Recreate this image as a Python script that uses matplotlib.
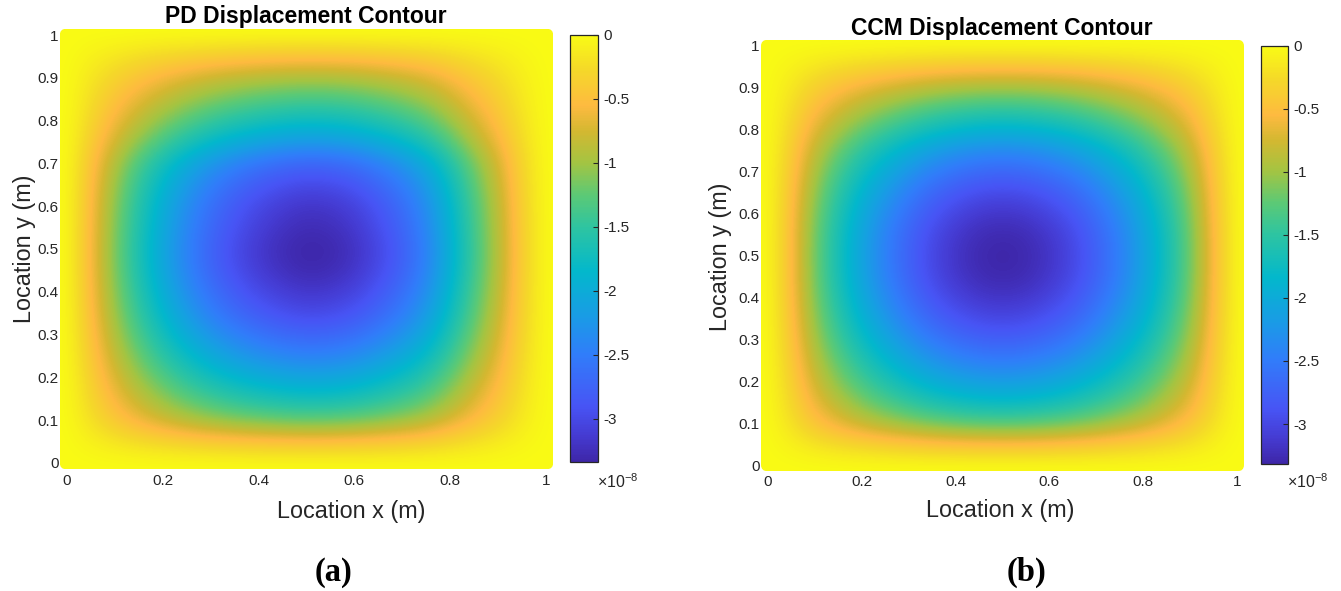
import numpy as np
import matplotlib
matplotlib.use('Agg')
import matplotlib.pyplot as plt
from matplotlib.colors import LinearSegmentedColormap
from matplotlib.patches import FancyBboxPatch
from matplotlib.ticker import FuncFormatter

plt.rcParams['font.family'] = ['Liberation Sans', 'DejaVu Sans']
plt.rcParams['axes.unicode_minus'] = False
plt.rcParams['mathtext.fontset'] = 'custom'
plt.rcParams['mathtext.rm'] = 'Liberation Sans'

# 节点坐标 (m)
grid_pos = [0, 0.05, 0.10, 0.15, 0.20, 0.25, 0.30, 0.35, 0.40, 0.45, 0.50,
            0.55, 0.60, 0.65, 0.70, 0.75, 0.80, 0.85, 0.90, 0.95, 1.0]

# PD 位移 (x1e-8 m)，中线 y=0.5 与 x=0.5 上读取的幅值
pd_ux = [0, 0.57, 1.15, 1.65, 2.08, 2.45, 2.75, 2.98, 3.15, 3.27, 3.336,
         3.31, 3.21, 3.02, 2.78, 2.45, 1.95, 1.40, 0.90, 0.35, 0]
pd_uy = [0, 0.50, 1.25, 1.72, 2.10, 2.45, 2.75, 3.00, 3.17, 3.30, 3.336,
         3.27, 3.18, 3.00, 2.72, 2.20, 1.75, 1.35, 0.95, 0.45, 0]

# CCM 位移 (x1e-8 m)
ccm_ux = [0, 0.52, 1.18, 1.68, 2.10, 2.45, 2.75, 3.00, 3.17, 3.28, 3.317,
          3.28, 3.17, 3.00, 2.75, 2.45, 2.10, 1.68, 1.18, 0.52, 0]
ccm_uy = [0, 0.52, 1.30, 1.80, 2.18, 2.50, 2.78, 3.01, 3.18, 3.29, 3.317,
          3.28, 3.16, 2.97, 2.70, 2.36, 1.90, 1.45, 0.98, 0.45, 0]

x_ticks = [0, 0.2, 0.4, 0.6, 0.8, 1]
y_ticks = [0, 0.1, 0.2, 0.3, 0.4, 0.5, 0.6, 0.7, 0.8, 0.9, 1]
cb_ticks = [-3, -2.5, -2, -1.5, -1, -0.5, 0]

# parula 近似
parula = LinearSegmentedColormap.from_list('parula', [
    (0.00, (0.243, 0.150, 0.660)),
    (0.06, (0.270, 0.230, 0.820)),
    (0.13, (0.280, 0.330, 0.960)),
    (0.25, (0.190, 0.490, 0.980)),
    (0.34, (0.100, 0.610, 0.900)),
    (0.445, (0.010, 0.720, 0.800)),
    (0.55, (0.180, 0.770, 0.630)),
    (0.625, (0.360, 0.790, 0.460)),
    (0.70, (0.640, 0.770, 0.260)),
    (0.775, (0.830, 0.720, 0.190)),
    (0.835, (0.995, 0.730, 0.250)),
    (0.92, (0.960, 0.850, 0.160)),
    (1.00, (0.977, 0.984, 0.081)),
])

W, H = 1341, 591
fig = plt.figure(figsize=(W / 100, H / 100), dpi=100)


def box(l, t, r, b):
    return [l / W, 1 - b / H, (r - l) / W, (b - t) / H]


fmt = FuncFormatter(lambda v, p: '%g' % v)
gray = '#262626'
pad = 0.015


def panel(ax_rect, cb_rect, ux, uy, title, title_xy, xlab_xy, ylab_xy, tag_xy, tag, exp_xy):
    ax = fig.add_axes(box(*ax_rect))
    field = -np.outer(uy, ux) / max(ux)
    step = grid_pos[1] - grid_pos[0]
    im = ax.imshow(field, origin='lower', cmap=parula, interpolation='bicubic',
                   extent=[grid_pos[0] - step / 2, grid_pos[-1] + step / 2,
                           grid_pos[0] - step / 2, grid_pos[-1] + step / 2],
                   aspect='auto', vmin=field.min(), vmax=0)
    clip = FancyBboxPatch((-pad, -pad), 1 + 2 * pad, 1 + 2 * pad,
                          boxstyle='round,pad=0,rounding_size=%g' % pad,
                          transform=ax.transData)
    im.set_clip_path(clip)
    ax.set_xlim(-pad, 1 + pad)
    ax.set_ylim(-pad, 1 + pad)
    for s in ax.spines.values():
        s.set_visible(False)
    ax.set_xticks(x_ticks)
    ax.set_yticks(y_ticks)
    ax.xaxis.set_major_formatter(fmt)
    ax.yaxis.set_major_formatter(fmt)
    ax.tick_params(axis='x', length=0, pad=3, labelsize=11, labelcolor=gray)
    ax.tick_params(axis='y', length=0, pad=1, labelsize=11, labelcolor=gray)

    cax = fig.add_axes(box(*cb_rect))
    cb = fig.colorbar(im, cax=cax)
    cb.set_ticks(cb_ticks)
    cb.ax.yaxis.set_major_formatter(fmt)
    cb.ax.tick_params(direction='in', length=3.5, width=0.8, color=gray,
                      pad=4, labelsize=11, labelcolor=gray)
    cb.outline.set_edgecolor(gray)
    cb.outline.set_linewidth(0.9)

    fig.text(title_xy[0] / W, 1 - title_xy[1] / H, title, ha='center', va='baseline',
             fontsize=16.5, fontweight='bold', color='black')
    fig.text(xlab_xy[0] / W, 1 - xlab_xy[1] / H, 'Location x (m)', ha='center',
             va='baseline', fontsize=16.8, color=gray)
    fig.text(ylab_xy[0] / W, 1 - ylab_xy[1] / H, 'Location y (m)', ha='center',
             va='center', rotation=90, fontsize=16.8, color=gray)
    fig.text(tag_xy[0] / W, 1 - tag_xy[1] / H, tag, ha='center', va='baseline',
             fontsize=23.5, fontweight='bold', family='Liberation Serif')
    fig.text(exp_xy[0] / W, 1 - exp_xy[1] / H, r'$\times\mathregular{10^{-8}}$',
             ha='left', va='baseline', fontsize=11.5, color=gray)


panel((59.8, 28.6, 553.2, 469.4), (570, 34.5, 598, 462), pd_ux, pd_uy,
      'PD Displacement Contour', (306, 23), (351, 518), (25, 249), (334, 581),
      '(a)', (597, 488))
panel((761, 39.7, 1244, 471.3), (1261, 45.5, 1288, 464), ccm_ux, ccm_uy,
      'CCM Displacement Contour', (1002, 35), (1000, 517), (720, 257), (1027, 581),
      '(b)', (1287, 488))

fig.savefig('out.png', dpi=100)
